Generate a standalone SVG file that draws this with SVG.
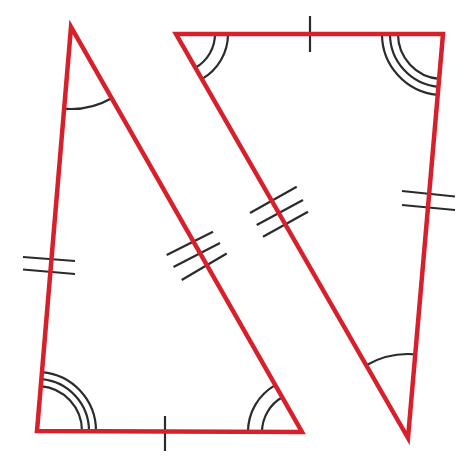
<svg xmlns="http://www.w3.org/2000/svg" width="467" height="463" viewBox="0 0 467 463">
<style>
.tri{fill:none;stroke:#d7202b;stroke-width:4.5;stroke-linejoin:miter;stroke-miterlimit:20}
.mk{fill:none;stroke:#2b2b2b;stroke-width:2.2;stroke-linecap:butt}
</style>
<rect width="467" height="463" fill="#ffffff"/>
<g id="left-triangle">
<path class="mk" d="M64.1,108.7 A82,82 0 0 0 111.6,98.2"/>
<path class="mk" d="M40.8,386.2 A45,45 0 0 1 82,431"/>
<path class="mk" d="M41.4,379.2 A52,52 0 0 1 89,431"/>
<path class="mk" d="M42,372.2 A59,59 0 0 1 96,431"/>
<path class="mk" d="M262,432 A40,40 0 0 1 282.2,397.3"/>
<path class="mk" d="M248,432 A54,54 0 0 1 275.2,385.1"/>
<line class="mk" x1="23" y1="257" x2="75" y2="261"/>
<line class="mk" x1="23" y1="269.5" x2="75" y2="274"/>
<line class="mk" x1="166.7" y1="255" x2="213" y2="231.7"/>
<line class="mk" x1="173.5" y1="267" x2="220" y2="243"/>
<line class="mk" x1="181.7" y1="280" x2="226.7" y2="253.5"/>
<line class="mk" x1="165" y1="416" x2="165" y2="451"/>
<polygon class="tri" points="71,27 37,431 302,432"/>
</g>
<g id="right-triangle">
<path class="mk" d="M215,34 A39,39 0 0 1 195.4,67.8"/>
<path class="mk" d="M228,34 A52,52 0 0 1 201.9,79.1"/>
<path class="mk" d="M398,34 A45,45 0 0 0 439.1,78.8"/>
<path class="mk" d="M390,34 A53,53 0 0 0 438.4,86.8"/>
<path class="mk" d="M382,34 A61,61 0 0 0 437.7,94.8"/>
<path class="mk" d="M366.2,365.2 A84,84 0 0 1 415.2,354.3"/>
<line class="mk" x1="402" y1="191" x2="455" y2="196.5"/>
<line class="mk" x1="402" y1="205" x2="455" y2="210"/>
<line class="mk" x1="250" y1="213" x2="296.7" y2="186.7"/>
<line class="mk" x1="256.7" y1="225" x2="303" y2="200"/>
<line class="mk" x1="263" y1="236.7" x2="308" y2="211.7"/>
<line class="mk" x1="310" y1="16" x2="310" y2="52"/>
<polygon class="tri" points="176,34 443,34 408,438"/>
</g>
</svg>
